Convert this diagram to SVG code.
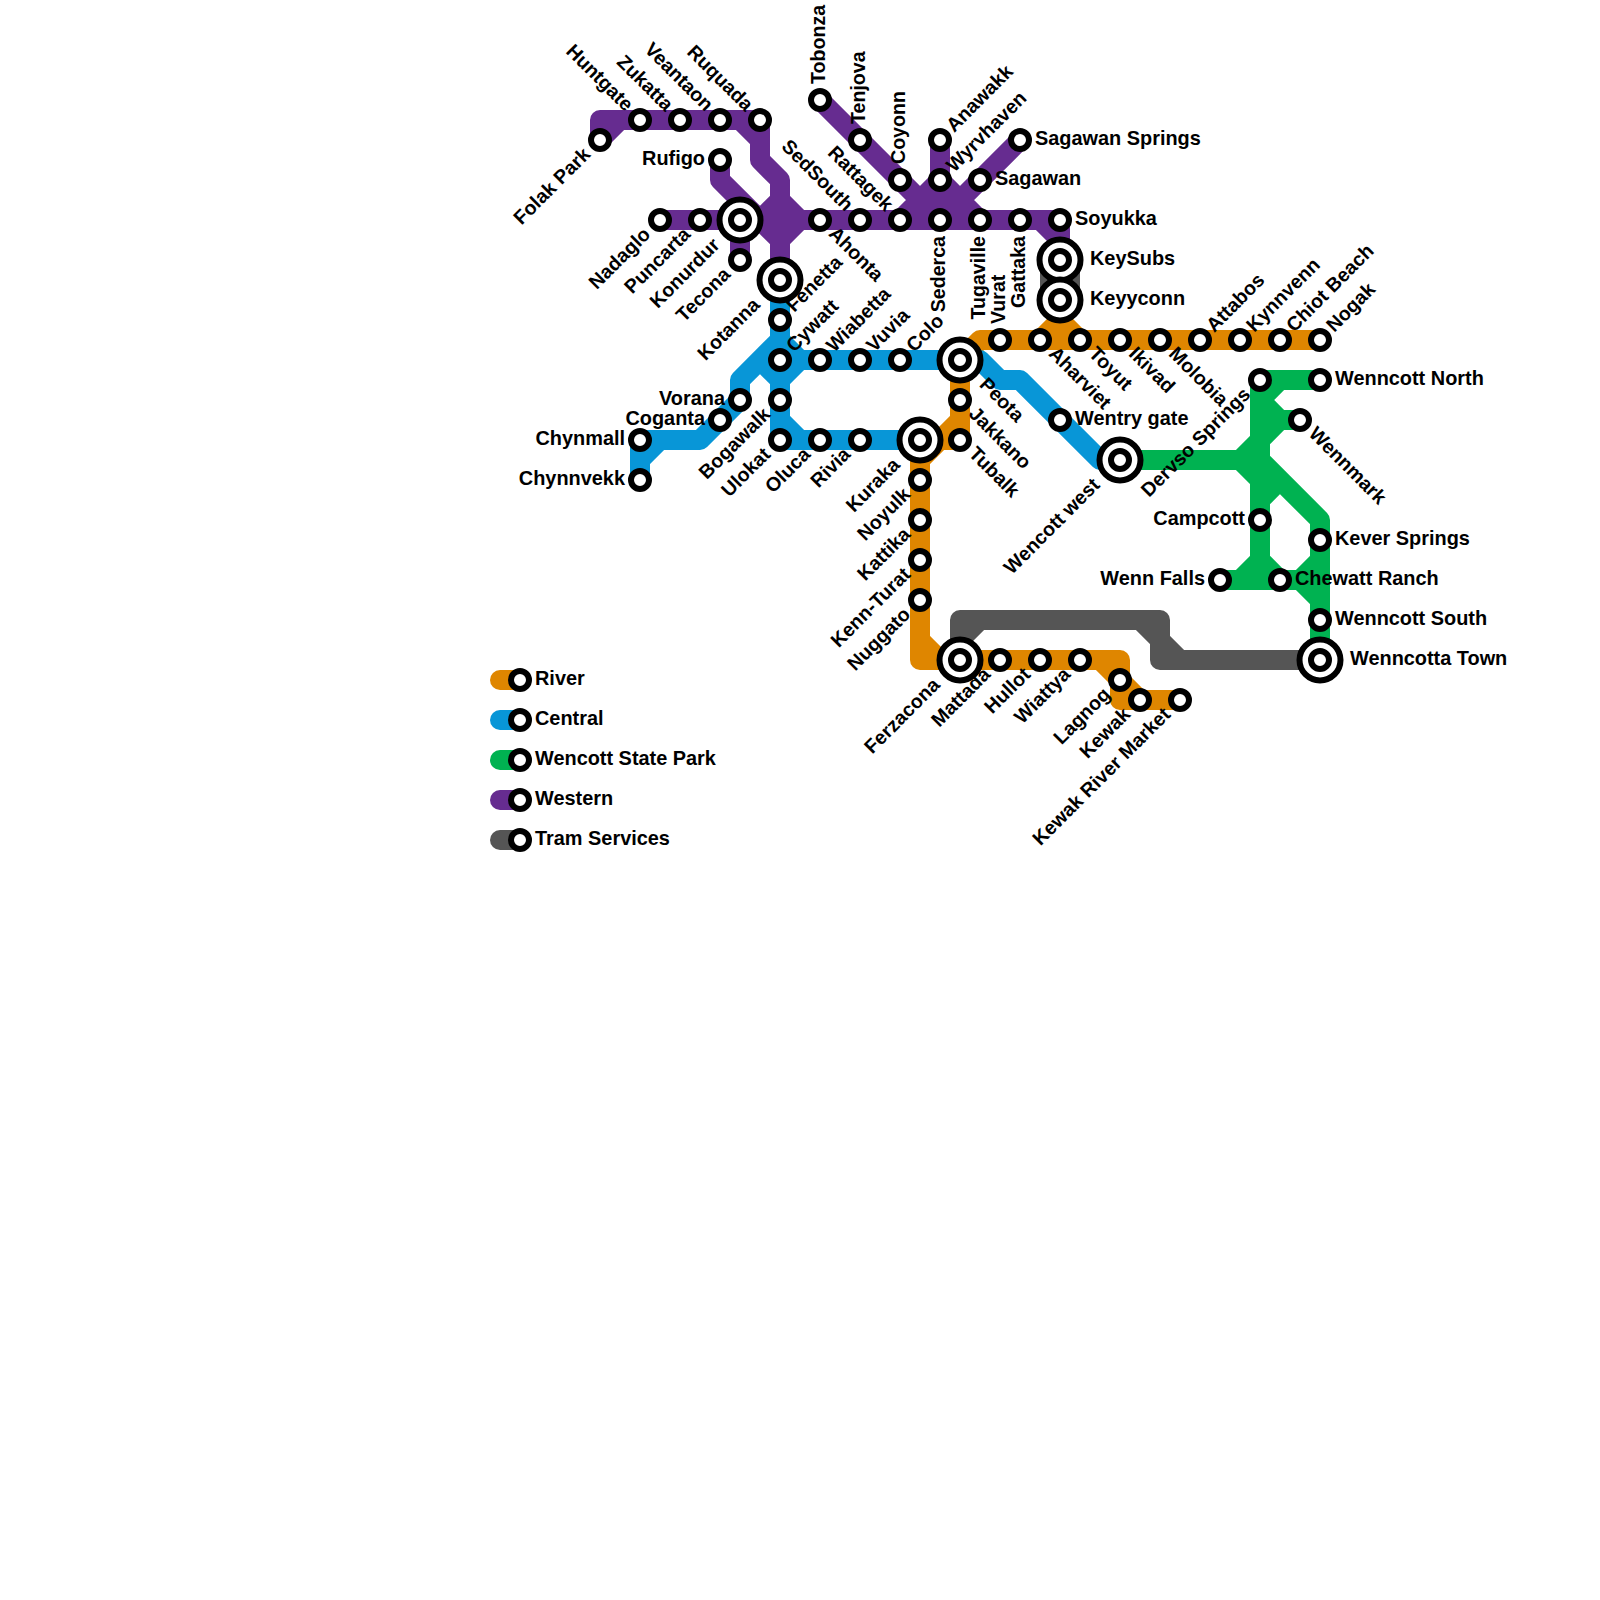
<svg xmlns="http://www.w3.org/2000/svg" width="1600" height="1600" viewBox="0 0 1600 1600">
<style>
.ln{fill:none;stroke-width:20;stroke-linejoin:round;stroke-linecap:round}
.r{stroke:#df8600}.c{stroke:#0896d7}.w{stroke:#00b251}.p{stroke:#662c90}.t{stroke:#555555}
.s{fill:#fff;stroke:#000;stroke-width:6}
.o{fill:#fff;stroke:#000;stroke-width:6}
text{font-family:"Liberation Sans",Arial,sans-serif;font-weight:700;font-size:19.9px;fill:#000}
text[transform]{font-size:19.6px}
.e{text-anchor:end}
</style>
<rect width="1600" height="1600" fill="#fff"/>
<g id="connectors">
<g id="line-tram">
<path class="ln t" d="M960,660V620H1160V660H1320M960,640L980,620M1140,620L1160,640L1180,660"/>
<path class="ln t" style="stroke-width:40;stroke-linecap:butt" d="M1060,260V300"/>
</g>
<g id="line-western">
<path class="ln p" d="M640,120H600V140L620,120H740L760,140V160L780,180V280M720,120H760V140M720,160V180L780,240L800,220M660,220H1060V260M740,220V260M740,220H760L780,200L800,220M820,100L940,220M940,140V220M900,220L940,180L980,220M1020,140L940,220M1020,220H1040L1060,240"/>
</g>
<g id="line-river">
<path class="ln r" d="M960,360L980,340H1320M1040,340L1060,320L1080,340M1060,300V320M960,360V440H920M920,460L960,420M920,440V660H1120V700H1180M920,640L940,660M1100,660L1120,680L1140,700"/>
</g>
<g id="line-central">
<path class="ln c" d="M780,280V440H920M780,340L800,360H980L1000,380H1020L1100,460H1120M780,380L800,360M780,380L760,360M780,340L740,380V400L700,440H640V480M640,460L660,440M780,420L800,440"/>
</g>
<g id="line-wencott">
<path class="ln w" d="M1120,460H1240L1260,440M1240,460L1260,480M1260,380H1320M1260,380V580M1260,400L1280,380M1260,400L1280,420H1300M1260,440L1280,420M1260,460L1320,520V660M1260,500L1280,480M1220,580H1300L1320,600M1240,580L1260,560L1280,580M1300,580L1320,560"/>
</g>
</g>
<g id="n-tobonza" transform="translate(820,100)"><circle class="s" r="9"/><text transform="rotate(-90)" x="16" y="5">Tobonza</text></g>
<g id="n-tenjova" transform="translate(860,140)"><circle class="s" r="9"/><text transform="rotate(-90)" x="16" y="5">Tenjova</text></g>
<g id="n-coyonn" transform="translate(900,180)"><circle class="s" r="9"/><text transform="rotate(-90)" x="16" y="5">Coyonn</text></g>
<g id="n-vurat" transform="translate(1000,340)"><circle class="s" r="9"/><text transform="rotate(-90)" x="16" y="5">Vurat</text></g>
<g id="n-sederca" transform="translate(940,220)"><circle class="s" r="9"/><text class="e" transform="rotate(-90)" x="-16" y="5">Sederca</text></g>
<g id="n-tugaville" transform="translate(980,220)"><circle class="s" r="9"/><text class="e" transform="rotate(-90)" x="-16" y="5">Tugaville</text></g>
<g id="n-gattaka" transform="translate(1020,220)"><circle class="s" r="9"/><text class="e" transform="rotate(-90)" x="-16" y="5">Gattaka</text></g>
<g id="n-anawakk" transform="translate(940,140)"><circle class="s" r="9"/><text transform="rotate(-45)" x="15" y="5">Anawakk</text></g>
<g id="n-wyrvhaven" transform="translate(940,180)"><circle class="s" r="9"/><text transform="rotate(-45)" x="15" y="5">Wyrvhaven</text></g>
<g id="n-kotanna" transform="translate(780,280)"><circle class="o" r="20.5"/><circle class="s" r="9"/><text class="e" transform="rotate(-45)" x="-32" y="5">Kotanna</text></g>
<g id="n-fenetta" transform="translate(780,320)"><circle class="s" r="9"/><text transform="rotate(-45)" x="15" y="5">Fenetta</text></g>
<g id="n-cywatt" transform="translate(780,360)"><circle class="s" r="9"/><text transform="rotate(-45)" x="15" y="5">Cywatt</text></g>
<g id="n-wiabetta" transform="translate(820,360)"><circle class="s" r="9"/><text transform="rotate(-45)" x="15" y="5">Wiabetta</text></g>
<g id="n-vuvia" transform="translate(860,360)"><circle class="s" r="9"/><text transform="rotate(-45)" x="15" y="5">Vuvia</text></g>
<g id="n-colo" transform="translate(900,360)"><circle class="s" r="9"/><text transform="rotate(-45)" x="15" y="5">Colo</text></g>
<g id="n-attabos" transform="translate(1200,340)"><circle class="s" r="9"/><text transform="rotate(-45)" x="15" y="5">Attabos</text></g>
<g id="n-kynnvenn" transform="translate(1240,340)"><circle class="s" r="9"/><text transform="rotate(-45)" x="15" y="5">Kynnvenn</text></g>
<g id="n-chiot-beach" transform="translate(1280,340)"><circle class="s" r="9"/><text transform="rotate(-45)" x="15" y="5">Chiot Beach</text></g>
<g id="n-nogak" transform="translate(1320,340)"><circle class="s" r="9"/><text transform="rotate(-45)" x="15" y="5">Nogak</text></g>
<g id="n-folak-park" transform="translate(600,140)"><circle class="s" r="9"/><text class="e" transform="rotate(-45)" x="-17" y="5">Folak Park</text></g>
<g id="n-nadaglo" transform="translate(660,220)"><circle class="s" r="9"/><text class="e" transform="rotate(-45)" x="-17" y="5">Nadaglo</text></g>
<g id="n-puncarta" transform="translate(700,220)"><circle class="s" r="9"/><text class="e" transform="rotate(-45)" x="-17" y="5">Puncarta</text></g>
<g id="n-konurdur" transform="translate(740,220)"><circle class="o" r="20.5"/><circle class="s" r="9"/><text class="e" transform="rotate(-45)" x="-32" y="5">Konurdur</text></g>
<g id="n-tecona" transform="translate(740,260)"><circle class="s" r="9"/><text class="e" transform="rotate(-45)" x="-17" y="5">Tecona</text></g>
<g id="n-bogawalk" transform="translate(780,400)"><circle class="s" r="9"/><text class="e" transform="rotate(-45)" x="-17" y="5">Bogawalk</text></g>
<g id="n-ulokat" transform="translate(780,440)"><circle class="s" r="9"/><text class="e" transform="rotate(-45)" x="-17" y="5">Ulokat</text></g>
<g id="n-oluca" transform="translate(820,440)"><circle class="s" r="9"/><text class="e" transform="rotate(-45)" x="-17" y="5">Oluca</text></g>
<g id="n-rivia" transform="translate(860,440)"><circle class="s" r="9"/><text class="e" transform="rotate(-45)" x="-17" y="5">Rivia</text></g>
<g id="n-kuraka" transform="translate(920,440)"><circle class="o" r="20.5"/><circle class="s" r="9"/><text class="e" transform="rotate(-45)" x="-32" y="5">Kuraka</text></g>
<g id="n-noyulk" transform="translate(920,480)"><circle class="s" r="9"/><text class="e" transform="rotate(-45)" x="-17" y="5">Noyulk</text></g>
<g id="n-kattika" transform="translate(920,520)"><circle class="s" r="9"/><text class="e" transform="rotate(-45)" x="-17" y="5">Kattika</text></g>
<g id="n-kenn-turat" transform="translate(920,560)"><circle class="s" r="9"/><text class="e" transform="rotate(-45)" x="-17" y="5">Kenn-Turat</text></g>
<g id="n-nuggato" transform="translate(920,600)"><circle class="s" r="9"/><text class="e" transform="rotate(-45)" x="-17" y="5">Nuggato</text></g>
<g id="n-ferzacona" transform="translate(960,660)"><circle class="o" r="20.5"/><circle class="s" r="9"/><text class="e" transform="rotate(-45)" x="-32" y="5">Ferzacona</text></g>
<g id="n-mattada" transform="translate(1000,660)"><circle class="s" r="9"/><text class="e" transform="rotate(-45)" x="-17" y="5">Mattada</text></g>
<g id="n-hullot" transform="translate(1040,660)"><circle class="s" r="9"/><text class="e" transform="rotate(-45)" x="-17" y="5">Hullot</text></g>
<g id="n-wiattya" transform="translate(1080,660)"><circle class="s" r="9"/><text class="e" transform="rotate(-45)" x="-17" y="5">Wiattya</text></g>
<g id="n-lagnog" transform="translate(1120,680)"><circle class="s" r="9"/><text class="e" transform="rotate(-45)" x="-17" y="5">Lagnog</text></g>
<g id="n-kewak" transform="translate(1140,700)"><circle class="s" r="9"/><text class="e" transform="rotate(-45)" x="-17" y="5">Kewak</text></g>
<g id="n-kewak-river-market" transform="translate(1180,700)"><circle class="s" r="9"/><text class="e" transform="rotate(-45)" x="-17" y="5">Kewak River Market</text></g>
<g id="n-wencott-west" transform="translate(1120,460)"><circle class="o" r="20.5"/><circle class="s" r="9"/><text class="e" transform="rotate(-45)" x="-32" y="5">Wencott west</text></g>
<g id="n-dervso-springs" transform="translate(1260,380)"><circle class="s" r="9"/><text class="e" transform="rotate(-45)" x="-17" y="5">Dervso Springs</text></g>
<g id="n-huntgate" transform="translate(640,120)"><circle class="s" r="9"/><text class="e" transform="rotate(45)" x="-16" y="5">Huntgate</text></g>
<g id="n-zukatta" transform="translate(680,120)"><circle class="s" r="9"/><text class="e" transform="rotate(45)" x="-16" y="5">Zukatta</text></g>
<g id="n-veantaon" transform="translate(720,120)"><circle class="s" r="9"/><text class="e" transform="rotate(45)" x="-16" y="5">Veantaon</text></g>
<g id="n-ruquada" transform="translate(760,120)"><circle class="s" r="9"/><text class="e" transform="rotate(45)" x="-16" y="5">Ruquada</text></g>
<g id="n-sedsouth" transform="translate(860,220)"><circle class="s" r="9"/><text class="e" transform="rotate(45)" x="-16" y="5">SedSouth</text></g>
<g id="n-rattagek" transform="translate(900,220)"><circle class="s" r="9"/><text class="e" transform="rotate(45)" x="-16" y="5">Rattagek</text></g>
<g id="n-ahonta" transform="translate(820,220)"><circle class="s" r="9"/><text transform="rotate(45)" x="16" y="5">Ahonta</text></g>
<g id="n-peota" transform="translate(960,360)"><circle class="o" r="20.5"/><circle class="s" r="9"/><text transform="rotate(45)" x="31" y="5">Peota</text></g>
<g id="n-jakkano" transform="translate(960,400)"><circle class="s" r="9"/><text transform="rotate(45)" x="16" y="5">Jakkano</text></g>
<g id="n-tubalk" transform="translate(960,440)"><circle class="s" r="9"/><text transform="rotate(45)" x="16" y="5">Tubalk</text></g>
<g id="n-aharviet" transform="translate(1040,340)"><circle class="s" r="9"/><text transform="rotate(45)" x="16" y="5">Aharviet</text></g>
<g id="n-toyut" transform="translate(1080,340)"><circle class="s" r="9"/><text transform="rotate(45)" x="16" y="5">Toyut</text></g>
<g id="n-ikivad" transform="translate(1120,340)"><circle class="s" r="9"/><text transform="rotate(45)" x="16" y="5">Ikivad</text></g>
<g id="n-molobia" transform="translate(1160,340)"><circle class="s" r="9"/><text transform="rotate(45)" x="16" y="5">Molobia</text></g>
<g id="n-wennmark" transform="translate(1300,420)"><circle class="s" r="9"/><text transform="rotate(45)" x="16" y="5">Wennmark</text></g>
<g id="n-sagawan-springs" transform="translate(1020,140)"><circle class="s" r="9"/><text x="15" y="5">Sagawan Springs</text></g>
<g id="n-sagawan" transform="translate(980,180)"><circle class="s" r="9"/><text x="15" y="5">Sagawan</text></g>
<g id="n-soyukka" transform="translate(1060,220)"><circle class="s" r="9"/><text x="15" y="5">Soyukka</text></g>
<g id="n-keysubs" transform="translate(1060,260)"><circle class="o" r="20.5"/><circle class="s" r="9"/><text x="30" y="5">KeySubs</text></g>
<g id="n-keyyconn" transform="translate(1060,300)"><circle class="o" r="20.5"/><circle class="s" r="9"/><text x="30" y="5">Keyyconn</text></g>
<g id="n-wenncott-north" transform="translate(1320,380)"><circle class="s" r="9"/><text x="15" y="5">Wenncott North</text></g>
<g id="n-wentry-gate" transform="translate(1060,420)"><circle class="s" r="9"/><text x="15" y="5">Wentry gate</text></g>
<g id="n-kever-springs" transform="translate(1320,540)"><circle class="s" r="9"/><text x="15" y="5">Kever Springs</text></g>
<g id="n-chewatt-ranch" transform="translate(1280,580)"><circle class="s" r="9"/><text x="15" y="5">Chewatt Ranch</text></g>
<g id="n-wenncott-south" transform="translate(1320,620)"><circle class="s" r="9"/><text x="15" y="5">Wenncott South</text></g>
<g id="n-wenncotta-town" transform="translate(1320,660)"><circle class="o" r="20.5"/><circle class="s" r="9"/><text x="30" y="5">Wenncotta Town</text></g>
<g id="n-rufigo" transform="translate(720,160)"><circle class="s" r="9"/><text class="e" x="-15" y="5">Rufigo</text></g>
<g id="n-vorana" transform="translate(740,400)"><circle class="s" r="9"/><text class="e" x="-15" y="5">Vorana</text></g>
<g id="n-coganta" transform="translate(720,420)"><circle class="s" r="9"/><text class="e" x="-15" y="5">Coganta</text></g>
<g id="n-chynmall" transform="translate(640,440)"><circle class="s" r="9"/><text class="e" x="-15" y="5">Chynmall</text></g>
<g id="n-chynnvekk" transform="translate(640,480)"><circle class="s" r="9"/><text class="e" x="-15" y="5">Chynnvekk</text></g>
<g id="n-campcott" transform="translate(1260,520)"><circle class="s" r="9"/><text class="e" x="-15" y="5">Campcott</text></g>
<g id="n-wenn-falls" transform="translate(1220,580)"><circle class="s" r="9"/><text class="e" x="-15" y="5">Wenn Falls</text></g>
<g id="legend">
<g id="leg-river"><path class="ln r" d="M500,680H520"/><circle class="s" cx="520" cy="680" r="9"/><text x="535" y="685">River</text></g>
<g id="leg-central"><path class="ln c" d="M500,720H520"/><circle class="s" cx="520" cy="720" r="9"/><text x="535" y="725">Central</text></g>
<g id="leg-wencott"><path class="ln w" d="M500,760H520"/><circle class="s" cx="520" cy="760" r="9"/><text x="535" y="765">Wencott State Park</text></g>
<g id="leg-western"><path class="ln p" d="M500,800H520"/><circle class="s" cx="520" cy="800" r="9"/><text x="535" y="805">Western</text></g>
<g id="leg-tram"><path class="ln t" d="M500,840H520"/><circle class="s" cx="520" cy="840" r="9"/><text x="535" y="845">Tram Services</text></g>
</g>
</svg>
